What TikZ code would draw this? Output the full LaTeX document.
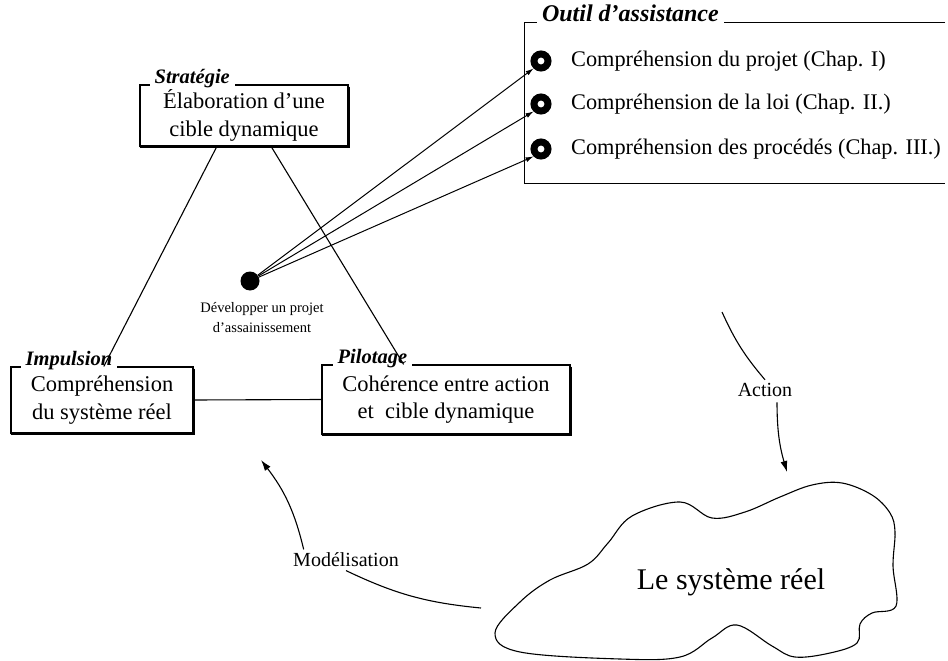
\documentclass[tikz,border=0pt]{standalone}
\usepackage{fontspec}
\setmainfont{Liberation Serif}
\usetikzlibrary{calc,arrows.meta}

\tikzset{
  cadre/.style={draw, line width=1.1pt, inner sep=0pt, align=center,
    font=\fontsize{22.5}{27.5}\selectfont},
  titre/.style={fill=white, inner xsep=5pt, inner ysep=1pt, anchor=base west,
    font=\fontsize{20.5}{22}\selectfont\bfseries\itshape},
  anneau/.style={circle, draw, line width=7pt, fill=white, minimum size=14pt, inner sep=0pt},
  item/.style={anchor=west, inner sep=0pt, font=\fontsize{22.3}{26}\selectfont},
  etiq/.style={font=\fontsize{20}{24}\selectfont},
  lien/.style={line width=1.1pt},
  ombre/.style={line width=1.2pt, line cap=round},
  fleche/.style={line width=1.1pt, -{Latex[length=11pt,width=7pt]}},
  pointe/.style={line width=1pt, -{Latex[length=8pt,width=5pt]}},
}

\begin{document}
\begin{tikzpicture}[x=1pt,y=-1pt]
  \useasboundingbox (0,0) rectangle (948,661);

  % les trois boites
  \node[cadre, minimum width=208pt, minimum height=61pt] (strat) at (244,115.5) {Élaboration d’une\\cible dynamique};
  \node[titre] (tstrat) at ($(strat.north west)+(10,-1)$) {Stratégie};
  \node[cadre, minimum width=182pt, minimum height=66pt] (imp) at (102,400) {Compréhension\\du système réel};
  \node[titre] (timp) at ($(imp.north west)+(10,-1)$) {Impulsion};
  \node[cadre, minimum width=248pt, minimum height=69pt] (pil) at (446,399.5) {Cohérence entre action\\et~ cible dynamique};
  \node[titre] (tpil) at ($(pil.north west)+(11,-1)$) {Pilotage};
  \foreach \b in {strat,imp,pil}
    \draw[ombre] ($(\b.south west)+(1,1.3)$) -- ($(\b.south east)+(1.3,1.3)$) -- ($(\b.north east)+(1.3,3)$);
  \draw[lien] ($(strat.south west)!.37!(strat.south east)$) -- ($(imp.north west)!.51!(imp.north east)$);
  \draw[lien] ($(strat.south west)!.63!(strat.south east)$) -- ($(pil.north west)!.33!(pil.north east)$);
  \draw[lien] (imp.east) -- (pil.west);

  % outil d'assistance
  \node[minimum width=420pt, minimum height=160pt, inner sep=0pt] (outil) at (735,103) {};
  \draw[lien] (outil.north east) -- (outil.north west) -- (outil.south west) -- (outil.south east);
  \node[titre, font=\fontsize{24}{26}\selectfont\bfseries\itshape] (toutil) at ($(outil.north west)+(12,-1)$) {Outil d’assistance};
  \node[anneau] (r1) at (541,61) {};
  \node[anneau] (r2) at (541,104) {};
  \node[anneau] (r3) at (541,149) {};
  \node[item] (t1) at (571,61) {Compréhension du projet (Chap. I)};
  \node[item] (t2) at (571,104) {Compréhension de la loi (Chap. II.)};
  \node[item] (t3) at (571,149) {Compréhension des procédés (Chap. III.)};

  % projet
  \node[circle, fill, minimum size=19pt, inner sep=0pt] (dot) at (250,281) {};
  \node[align=center, font=\fontsize{14.5}{20}\selectfont] (dev) at (262,318) {Développer un projet\\d’assainissement};
  \foreach \r in {r1,r2,r3}
    \draw[pointe] (dot) -- (\r.south west);

  % systeme reel
  \draw[lien] plot[smooth cycle, tension=0.6] coordinates {
    (495,633) (520,602) (550,580) (588,564) (608,543) (632,516) (680,502)
    (712,518) (745,512) (780,497) (812,485) (842,483) (872,495) (890,513)
    (895,532) (893,566) (896,606) (872,613) (860,624) (857,643) (830,653)
    (795,657) (772,646) (737,625) (712,638) (680,657) (620,659) (520,652)};
  \node[font=\fontsize{30}{34}\selectfont] (reel) at (731,582) {Le système réel};

  % action / modelisation
  \node[etiq] (act) at (765,390) {Action};
  \coordinate (a0) at (722,312);
  \coordinate (a1) at (787,472);
  \draw[lien] (a0) to[bend right=8] (act.north);
  \draw[fleche] ($(act.south)+(12,2)$) to[bend right=8] (a1);
  \node[etiq] (mod) at (346,560) {Modélisation};
  \coordinate (m0) at (261,460);
  \coordinate (m1) at (481,608);
  \draw[fleche] ($(mod.north west)+(14,0)$) to[bend right=12] (m0);
  \draw[lien] (mod.south) to[bend right=10] (m1);
\end{tikzpicture}
\end{document}
